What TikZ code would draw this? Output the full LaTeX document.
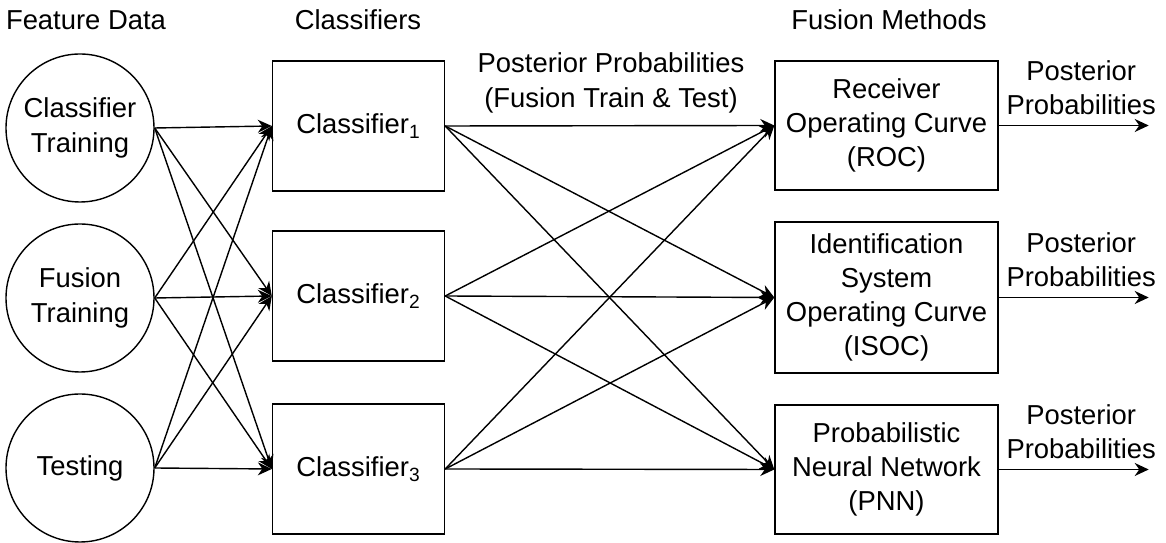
\documentclass[tikz,border=0pt]{standalone}
\usepackage{fontspec}
\setmainfont{Liberation Sans}
\usepackage{tikz}
\usetikzlibrary{positioning,calc,arrows,arrows.meta}

\begin{document}
\begin{tikzpicture}[->,>={Stealth[length=2.8mm,width=2.6mm]},line width=0.8pt,
                txt/.style={font=\fontsize{15.6}{19.5}\selectfont,align=center,inner sep=1pt},
                data node/.style={circle,draw,txt,minimum size=2.96cm,inner sep=0pt},
                clf node/.style={rectangle,draw,txt,minimum width=3.44cm,minimum height=2.6cm},
                fuse node/.style={rectangle,draw,txt,minimum width=4.46cm,minimum height=2.58cm}]
\useasboundingbox (0,0) rectangle (23.32,10.86);
%Headers
    \node[txt] (Hdata) at (1.72,10.46) {Feature Data};
    \node[txt] (Hclf) at (7.16,10.46) {Classifiers};
    \node[txt] (Hfuse) at (17.78,10.46) {Fusion Methods};
    \node[txt] (Hpost) at (12.22,9.2) {Posterior Probabilities\\(Fusion Train \& Test)};
%Nodes
    \node[data node] (D1) at (1.6,8.30) {Classifier\\Training};
    \node[data node] (D2) at (1.6,4.90) {Fusion\\Training};
    \node[data node] (D3) at (1.6,1.50) {Testing};
    \node[clf node] (C1) at (7.17,8.34) {Classifier\textsubscript{1}};
    \node[clf node] (C2) at (7.17,4.94) {Classifier\textsubscript{2}};
    \node[clf node] (C3) at (7.17,1.48) {Classifier\textsubscript{3}};
    \node[fuse node] (F1) at (17.73,8.35) {Receiver\\Operating Curve\\(ROC)};
    \node[fuse node,minimum height=3.02cm] (F2) at (17.73,4.91) {Identification\\System\\Operating Curve\\(ISOC)};
    \node[fuse node] (F3) at (17.73,1.47) {Probabilistic\\Neural Network\\(PNN)};
%Lines
    \foreach \i in {1,2,3}
      \foreach \j in {1,2,3}{
        \draw (D\i.east) -- (C\j.west);
        \draw (C\i.east) -- (F\j.west);
      }
    \foreach \i in {1,2,3}{
        \coordinate[right=3cm of F\i.east] (O\i);
        \draw (F\i.east) -- (O\i);
        \node[txt] (P\i) at ($(F\i.east)!0.55!(O\i)+(0,0.75)$) {Posterior\\Probabilities};
    }
\end{tikzpicture}
\end{document}
